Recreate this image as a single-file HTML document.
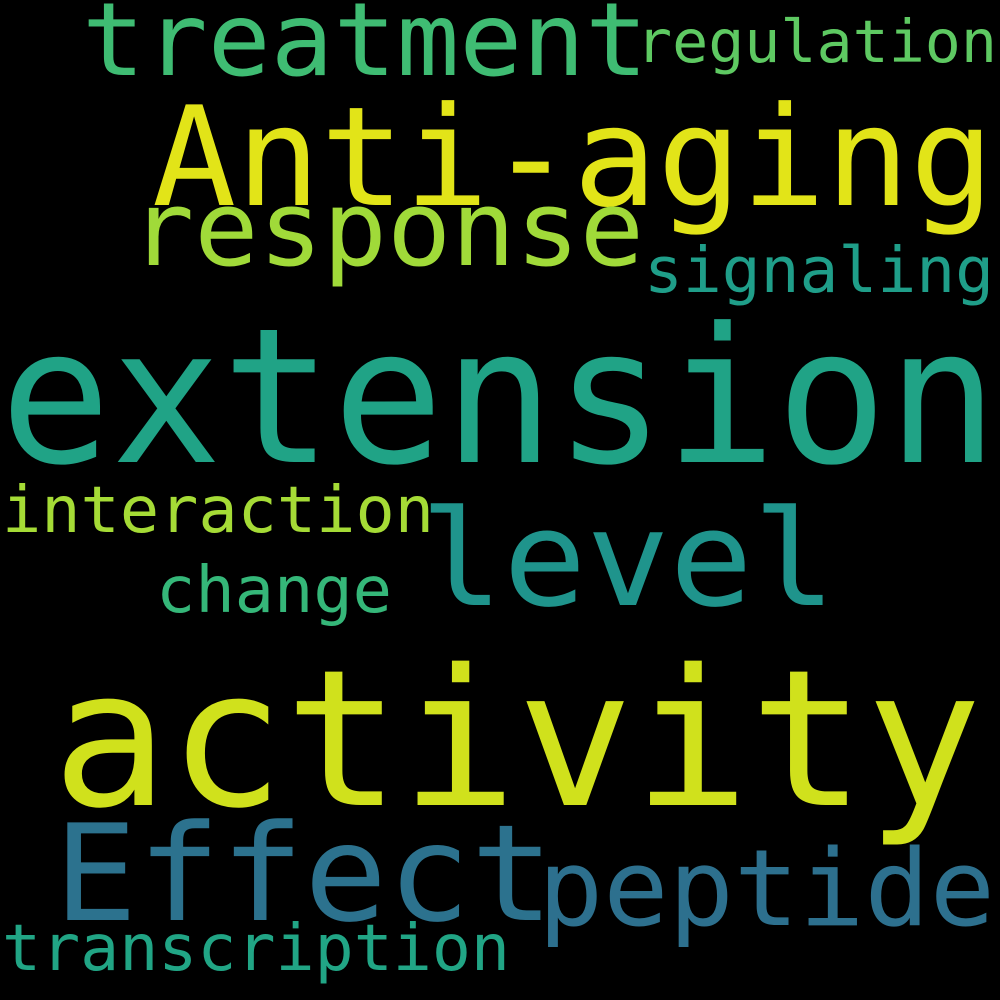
<!DOCTYPE html>
<html><head><meta charset="utf-8"><style>
html,body{margin:0;padding:0;background:#000;width:1000px;height:1000px;overflow:hidden}
text{font-family:"DejaVu Sans Mono","Liberation Mono",monospace}
</style></head><body>
<svg width="1000" height="1000" viewBox="0 0 1000 1000">
<rect width="1000" height="1000" fill="#000"/>
<g id="words"></g>
</svg>
<script>
const words=["treatment","regulation","Anti-aging","response","signaling","extension","interaction","level","change","activity","Effect","peptide","transcription"];
const sizes=[102,59,138,104,63,188,64,133,64,190,134,106,64];
const lefts=[82,636,152,130,644,0,2,420,156,52,54,538,2];
const baselines=[75,62,205,265,292,462,532,605,612,805,920,925,970];
const widths=[566,361,842,514,350,998,432,416,236,930,500,457,508];
const colors=["#3fbc73","#5ec962","#e2e418","#a0da39","#1f9e89","#20a386","#a5db36","#1f948c","#35b779","#d0e11c","#2c728e","#2d708e","#21a585"];
const g=document.getElementById('words');
words.forEach((w,i)=>{
 const t=document.createElementNS('http://www.w3.org/2000/svg','text');
 t.setAttribute('x',lefts[i]);t.setAttribute('y',baselines[i]);
 t.setAttribute('font-size',sizes[i]);t.setAttribute('fill',colors[i]);
 t.setAttribute('textLength',widths[i]);t.setAttribute('lengthAdjust','spacingAndGlyphs');
 
 
 t.textContent=w;g.appendChild(t);
});
</script>
</body></html>
